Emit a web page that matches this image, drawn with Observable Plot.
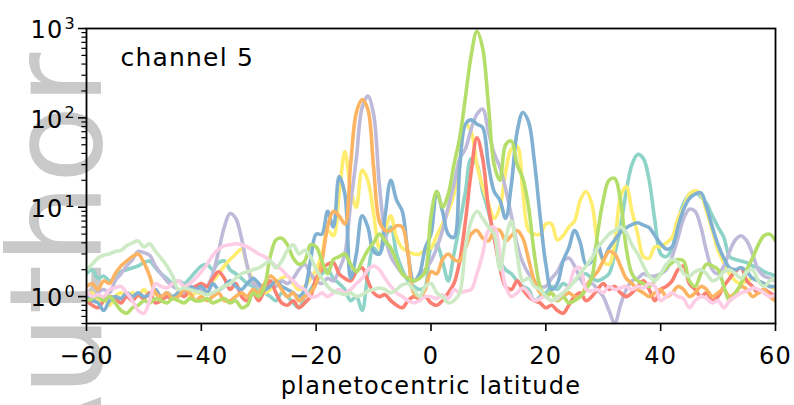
<!DOCTYPE html>
<html>
<head>
<meta charset="utf-8">
<script src="https://cdn.jsdelivr.net/npm/d3@7"></script>
<script src="https://cdn.jsdelivr.net/npm/@observablehq/plot@0.6"></script>
<style>
  html, body { margin: 0; padding: 0; background: #fff; }
  #wrap { position: relative; width: 794px; height: 405px; overflow: hidden; }
  #wm { position: absolute; left: 0; top: 0; }
  #chart { position: absolute; left: 0; top: 0; }
  #chart g[aria-label="line"], #chart g[aria-label="line"] path { stroke-width: 3.6px !important; stroke-linejoin: round; stroke-linecap: round; }
</style>
</head>
<body>
<div id="wrap">
  <svg id="wm" width="794" height="405"><text transform="translate(101,268) rotate(-90)" text-anchor="middle" font-family="DejaVu Sans" font-size="128" fill="#c9c9c9">Author</text></svg>
  <div id="chart"></div>
</div>
<script>
const lat = [-60,-59,-58,-57,-56,-55,-54,-53,-52,-51,-50,-49,-48,-47,-46,-45,-44,-43,-42,-41,
-40,-39,-38,-37,-36,-35,-34,-33,-32,-31,-30,-29,-28,-27,-26,-25,-24,-23,-22,-21,
-20,-19,-18,-17,-16,-15,-14,-13,-12,-11,-10,-9,-8,-7,-6,-5,-4,-3,-2,-1,
0,1,2,3,4,5,6,7,8,9,10,11,12,13,14,15,16,17,18,19,
20,21,22,23,24,25,26,27,28,29,30,31,32,33,34,35,36,37,38,39,
40,41,42,43,44,45,46,47,48,49,50,51,52,53,54,55,56,57,58,59,60];

const teal = [1.8,2.0,1.6,1.7,1.5,1.6,1.9,2.0,2.1,2.2,2.4,2.5,2.1,1.8,1.6,1.4,1.5,1.4,1.6,1.9,
2.2,2.3,2.0,2.4,2.5,2.0,1.8,1.6,1.4,1.3,1.2,1.1,1.0,0.9,1.1,1.0,0.85,0.75,1.0,1.2,
1.5,1.8,2.0,1.6,1.4,1.2,0.9,1.0,0.7,1.8,3.5,3.0,4.5,6.0,3.0,2.0,1.5,1.3,1.2,1.3,
3.5,3.8,2.5,1.5,3.0,6.5,15,35,30,15,9,4.6,2.5,2.0,1.8,1.5,1.3,1.2,0.9,1.0,
1.1,1.3,1.2,1.4,1.3,1.5,1.7,1.8,1.6,1.5,1.6,1.8,3.0,6.0,15,30,39,35,20,7,
3.0,2.8,3.5,7.0,11,14,15,13,11,8,6,4.6,2.8,2.6,2.5,2.4,2.2,2.1,1.9,1.8,1.7];

const yellow = [1.0,1.1,0.9,0.95,0.8,1.0,1.1,1.0,1.1,1.0,1.2,1.0,1.1,0.95,1.1,1.0,1.1,1.2,1.0,1.1,
1.1,1.3,1.5,1.8,2.2,2.6,3.0,3.4,2.2,1.5,1.3,1.1,1.2,1.4,1.6,1.7,1.4,1.2,1.3,1.6,
2.0,3.0,5.5,4.8,14,42,16,10,26,20,8.5,3.5,5.5,8,4.6,3.5,3.2,3.0,3.0,3.3,
3.5,4.8,6.5,9,14,33,85,70,30,17,11,7.5,10,25,45,48,15,5.5,5,5,
6.5,6.5,4.3,4.8,6,7,12,15,11,4,2.5,2.3,4,13,17,9,5,2.8,2.7,3.6,
3.6,4.0,4.6,7.5,10,14,15.3,14,9,5.5,3.3,2.4,1.8,1.5,1.4,1.5,1.6,1.5,1.4,1.3,1.2];

const lavender = [1.0,0.9,1.1,1.2,1.1,1.5,1.8,2.2,2.6,3.2,3.1,2.9,2.2,1.8,1.5,1.3,1.2,1.1,1.2,1.3,
1.2,1.3,1.8,3.2,6.0,8.5,7.5,4.5,2.2,1.4,1.3,1.2,1.4,1.3,1.5,1.4,1.6,2.0,2.3,1.8,
1.5,1.4,1.6,1.5,2.0,3.0,11,35,130,175,110,18,5,2.8,2.2,1.8,1.6,1.5,1.7,2.0,
2.5,3.5,5.5,10,18,35,45,75,110,125,70,40,28,16,8,3.8,2.4,1.8,1.5,1.3,
1.3,1.6,1.9,2.5,2.7,2.2,1.6,1.3,1.4,1.2,1.0,0.7,0.5,0.8,1.2,1.5,1.6,1.8,1.7,1.7,
1.8,2.0,2.8,4.5,7.5,9.5,9.0,6.0,3.2,2.0,1.8,2.2,3.2,4.3,4.8,4.2,3.0,2.0,1.7,1.6,1.5];

const red = [0.9,0.8,0.75,0.9,1.0,0.95,0.85,1.0,0.9,1.05,0.95,1.1,0.85,0.9,1.0,0.95,1.1,1.0,1.2,1.3,
1.4,1.3,1.6,1.9,1.6,1.2,1.4,1.0,0.9,1.1,0.9,1.2,1.5,1.1,0.85,0.8,0.9,0.75,0.85,1.0,
1.6,2.0,2.3,2.4,1.8,1.6,1.5,1.9,2.1,1.5,1.1,1.0,1.05,0.9,0.8,0.75,0.9,1.0,0.95,1.0,
0.85,0.8,0.9,1.1,1.4,2.5,7,25,60,35,10,4.6,2.1,1.3,1.2,1.5,1.2,1.0,0.9,0.85,
0.75,0.8,0.7,0.65,0.8,1.0,1.1,0.9,1.0,1.2,1.4,1.2,1.3,1.1,1.0,1.1,1.3,1.5,1.2,0.9,
1.2,1.3,1.5,2.0,2.2,1.4,1.2,1.0,1.1,0.9,1.0,1.3,1.6,1.9,2.1,1.5,1.3,1.1,1.2,1.1,1.0];

const blue = [1.0,0.9,0.85,0.7,0.9,1.0,0.95,1.1,1.0,1.1,1.0,1.05,1.2,1.0,1.1,1.0,1.1,1.2,1.3,1.2,
1.3,1.1,1.4,1.2,1.3,1.5,1.3,1.2,1.4,1.6,1.4,1.2,1.3,1.5,1.3,1.2,1.1,1.0,1.2,2.5,
5,5,9,6,22,14,1.6,3,8,6,3.2,3,8,20,12,9,3,1.5,1.8,3.5,
5,15,9,5,4.6,28,85,95,85,78,30,15,12,7.5,18,70,115,90,33,8,
2.3,1.2,1.4,2.5,3.5,5.5,4.0,2.3,2.5,3.9,2.6,3.5,4.3,5.2,5.9,6.4,6.7,6.3,5.9,4.8,
3.9,3.4,3.6,6,9.5,12.5,14,14.5,10,6,3.8,2.7,2.1,2.0,2.1,1.9,1.6,1.5,1.4,1.3,1.3];

const orange = [1.3,1.4,1.2,1.5,1.4,1.8,2.2,2.5,2.8,3.0,2.4,1.7,1.1,1.0,1.1,0.95,1.0,1.2,1.1,0.9,
1.0,0.9,1.0,1.1,0.9,0.9,1.0,1.1,1.0,1.2,1.1,1.4,1.7,1.5,1.2,1.0,1.1,0.9,1.0,1.1,
1.4,2.5,6.0,9.0,8.0,6.5,30,115,160,125,28,7,5.5,5.5,6.2,6.0,3.0,1.1,1.0,1.2,
1.9,1.8,2.6,3.0,2.6,2.5,3.5,5.0,5.5,4.5,4.2,5.5,5.5,4.2,4.8,5.5,4.5,2.6,1.5,1.1,
1.0,1.1,0.9,1.0,1.1,1.0,1.0,1.3,1.6,1.9,2.5,3.2,3.0,2.2,1.6,1.4,1.2,1.1,1.0,1.1,
1.2,1.0,1.1,1.3,1.2,1.0,1.1,1.3,1.2,1.0,1.1,1.2,1.0,1.1,1.3,1.2,1.0,1.1,1.2,1.0,0.9];

const green = [0.9,0.95,1.0,0.9,1.0,0.85,0.7,0.65,0.75,0.8,0.9,0.85,0.95,0.9,0.85,0.95,0.9,0.85,0.95,0.9,
0.9,0.95,0.85,0.9,0.95,0.85,0.9,0.75,0.8,1.1,1.0,1.3,2.8,4.3,4.5,3.8,2.7,2.3,2.5,3.8,
3.6,2.5,1.8,2.6,2.8,3.0,2.3,1.9,2.5,3.3,4.0,5.0,4.2,3.5,2.5,1.8,1.6,1.5,1.6,1.9,
8,15,10,14,30,60,170,500,930,600,140,30,20,50,55,30,21,10,3,1.3,
1.0,1.1,0.9,1.0,0.85,0.9,1.0,1.2,1.6,5,12,20,21,12,3.5,1.8,1.5,1.4,1.3,1.5,
1.8,2.1,2.4,2.6,2.5,1.5,1.3,1.8,2.3,2.2,2.0,1.3,0.9,1.1,1.4,2.0,2.7,3.8,4.8,5.0,4.2];

const pink = [1.15,1.0,1.05,1.0,1.2,1.25,1.3,1.1,0.9,0.7,0.65,0.9,1.4,1.3,1.25,1.4,1.5,1.3,1.4,1.6,
1.9,2.3,2.9,3.4,3.7,3.8,3.9,3.8,3.6,3.3,3.0,2.8,2.5,2.2,2.0,1.7,1.5,1.3,1.2,1.0,
1.0,1.1,1.0,1.1,1.2,1.1,1.2,1.4,1.6,2.0,2.2,2.0,1.6,1.3,1.1,1.0,0.9,0.85,0.9,1.0,
1.0,0.95,1.05,0.95,1.2,1.1,1.15,1.2,1.8,3,5.5,6,3,1.3,1.0,1.1,1.25,1.1,0.9,0.95,
1.0,0.9,0.95,1.1,1.3,2.0,2.1,1.2,1.15,1.2,1.1,1.3,1.2,1.25,1.3,1.2,1.3,1.25,1.4,1.3,
0.9,1.0,1.1,1.0,0.95,0.75,0.9,1.0,0.95,0.85,0.9,0.75,0.9,1.0,1.1,1.15,1.25,1.2,1.1,1.0,1.05];

const mint = [2.0,2.3,2.7,2.9,3.0,3.2,3.3,3.7,4.0,4.2,3.6,3.9,3.2,2.7,2.2,1.7,1.2,1.25,1.2,1.15,
1.1,1.05,1.1,1.2,1.3,1.4,1.6,1.8,1.9,2.0,2.1,2.3,2.5,2.1,2.5,3.3,3.8,3.0,3.3,2.8,
2.0,1.6,1.3,1.15,1.1,1.05,1.1,1.0,1.05,1.15,1.2,1.25,1.2,1.1,1.2,1.35,1.4,1.2,1.0,1.3,
1.4,1.1,1.0,0.85,0.9,1.1,3.5,7,9,7.5,6,5,2,4.5,7,3,1.5,1.6,1.3,1.2,
1.0,0.9,1.0,1.1,1.25,1.5,1.8,2.2,2.7,3.5,4.2,5.0,5.5,6.0,5.2,3.8,3.0,2.2,1.7,1.5,
1.8,2.3,2.6,2.4,1.8,1.7,1.9,2.0,1.8,1.5,1.6,1.9,2.0,1.8,1.6,1.9,2.0,1.5,1.3,1.5,1.6];

const seriesNames = ["teal","yellow","lavender","red","blue","orange","green","pink","mint"];
const seriesValues = [teal, yellow, lavender, red, blue, orange, green, pink, mint];
const seriesColors = ["#8dd3c7","#ffed6f","#bebada","#fb8072","#80b1d3","#fdb462","#b3de69","#fccde5","#ccebc5"];

const xTicks = [-60,-40,-20,0,20,40,60];
const xTickLabels = ["\u221260","\u221240","\u221220","0","20","40","60"];
const yMajor = [1,10,100,1000];
const yExp = ["0","1","2","3"];
const yMinor = [0.5,0.6,0.7,0.8,0.9,2,3,4,5,6,7,8,9,20,30,40,50,60,70,80,90,200,300,400,500,600,700,800,900];
const title = "channel 5";
const xLabel = "planetocentric latitude";

const rows = [];
seriesNames.forEach((name, k) => {
  seriesValues[k].forEach((v, i) => rows.push({lat: lat[i], v, s: name}));
});

const chart = Plot.plot({
  width: 794,
  height: 405,
  marginLeft: 86,
  marginRight: 19,
  marginTop: 28,
  marginBottom: 82,
  style: {fontFamily: "DejaVu Sans", fontSize: "24px", letterSpacing: "1.2px", color: "black", background: "transparent", overflow: "visible"},
  x: {domain: [-60, 60]},
  y: {type: "log", domain: [0.5, 1000]},
  color: {domain: seriesNames, range: seriesColors},
  marks: [
    Plot.line(rows, {x: "lat", y: "v", z: "s", stroke: "s", strokeWidth: 3.6, curve: "catmull-rom", clip: true}),
    Plot.frame({stroke: "black", strokeWidth: 1.8}),
    Plot.axisX({ticks: xTicks, tickSize: 8, tickPadding: 15, strokeWidth: 1.6, label: null,
      tickFormat: d => xTickLabels[xTicks.indexOf(d)], fontSize: 24}),
    Plot.axisY({ticks: yMajor, tickSize: 8, strokeWidth: 1.6, label: null, tickFormat: () => ""}),
    Plot.axisY({ticks: yMinor, tickSize: 4.6, strokeWidth: 1.2, label: null, tickFormat: () => ""}),
    Plot.text(yMajor, {y: d => d, text: () => "10", frameAnchor: "left", textAnchor: "end", dx: -23, dy: 2, fontSize: 24, fill: "black"}),
    Plot.text(yMajor, {y: d => d, text: (d, i) => yExp[i], frameAnchor: "left", textAnchor: "start", dx: -22, dy: -5, fontSize: 16, fill: "black"}),
    Plot.text([title], {frameAnchor: "top-left", dx: 34, dy: 20, textAnchor: "start", fontSize: 25, fill: "black"}),
    Plot.text([xLabel], {frameAnchor: "bottom", dy: 70, fontSize: 24, fill: "black"})
  ]
});
chart.querySelectorAll('g[aria-label="line"] path').forEach(p => p.setAttribute("stroke-width", "3.6"));
document.getElementById("chart").appendChild(chart);
</script>
</body>
</html>
